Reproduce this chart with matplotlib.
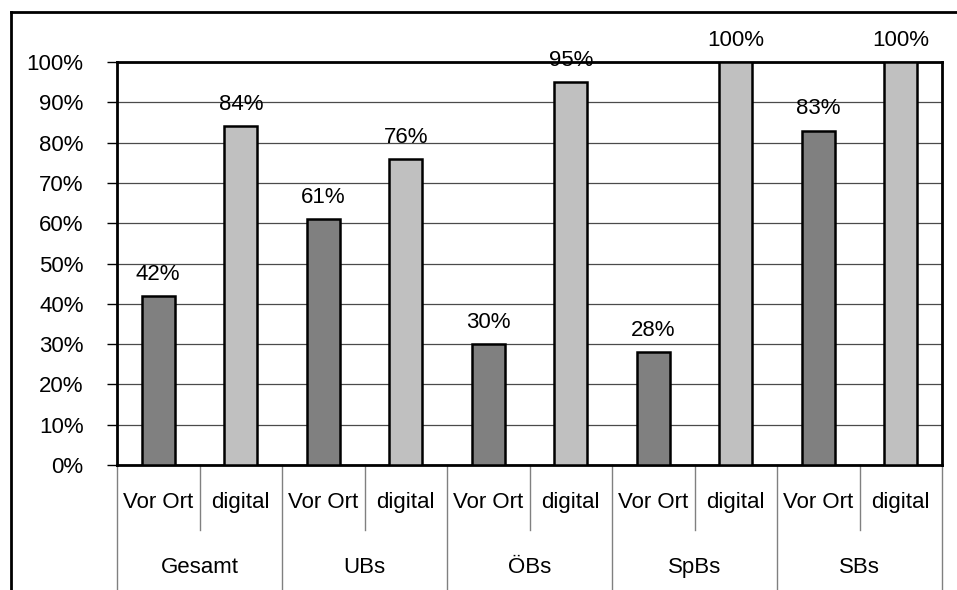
import matplotlib.pyplot as plt
from matplotlib.lines import Line2D
import matplotlib.transforms as mtransforms

# data
groups = ["Gesamt", "UBs", "ÖBs", "SpBs", "SBs"]
modes = ["Vor Ort", "digital"]
vor_ort = [42, 61, 30, 28, 83]
digital = [84, 76, 95, 100, 100]

DARK = "#808080"
LIGHT = "#C0C0C0"
FS = 16

plt.rcParams["font.family"] = ["Liberation Sans", "DejaVu Sans"]

W, H = 957, 590
fig = plt.figure(figsize=(W / 100, H / 100), dpi=100)
ax = fig.add_axes([117 / W, 1 - 465 / H, (942 - 117) / W, (465 - 62) / H])

values = []
colors = []
for v, d in zip(vor_ort, digital):
    values += [v, d]
    colors += [DARK, LIGHT]
xs = list(range(len(values)))

ax.bar(xs, values, width=0.4, color=colors, edgecolor="black",
       linewidth=1.8, zorder=3)
for x, v in zip(xs, values):
    ax.annotate(f"{v}%", (x, v), xytext=(0, 8), textcoords="offset points",
                ha="center", va="bottom", fontsize=FS, annotation_clip=False)

ax.set_xlim(-0.5, len(values) - 0.5)
ax.set_ylim(0, 100)
ax.set_yticks(range(0, 101, 10))
ax.set_yticklabels([f"{t}%" for t in range(0, 101, 10)], fontsize=FS)
ax.tick_params(axis="y", length=7, width=1, pad=17, color="black")
ax.set_xticks([])
ax.yaxis.grid(True, color="#4a4a4a", linewidth=0.9)
ax.set_axisbelow(True)
for s in ax.spines.values():
    s.set_linewidth(2)
    s.set_color("black")

# two-level category axis below the plot
trans = mtransforms.blended_transform_factory(ax.transData, ax.transAxes)
inner_bottom = -0.162
outer_bottom = -0.33
for i in range(len(values) + 1):
    b = i - 0.5
    y0 = outer_bottom if i % 2 == 0 else inner_bottom
    ax.add_line(Line2D([b, b], [0, y0], transform=trans, color="#808080",
                       linewidth=1, clip_on=False))
for x in xs:
    ax.text(x, -0.092, modes[x % 2], transform=trans, ha="center",
            va="center", fontsize=FS)
for g, name in enumerate(groups):
    ax.text(2 * g + 0.5, -0.255, name, transform=trans, ha="center",
            va="center", fontsize=FS)

# outer chart border (left and top only visible)
fig.add_artist(Line2D([11 / W, 11 / W], [0, 1 - 12 / H], color="black",
                      linewidth=2, transform=fig.transFigure))
fig.add_artist(Line2D([11 / W, 1], [1 - 12 / H, 1 - 12 / H], color="black",
                      linewidth=2, transform=fig.transFigure))

fig.savefig("out.png", dpi=100)
